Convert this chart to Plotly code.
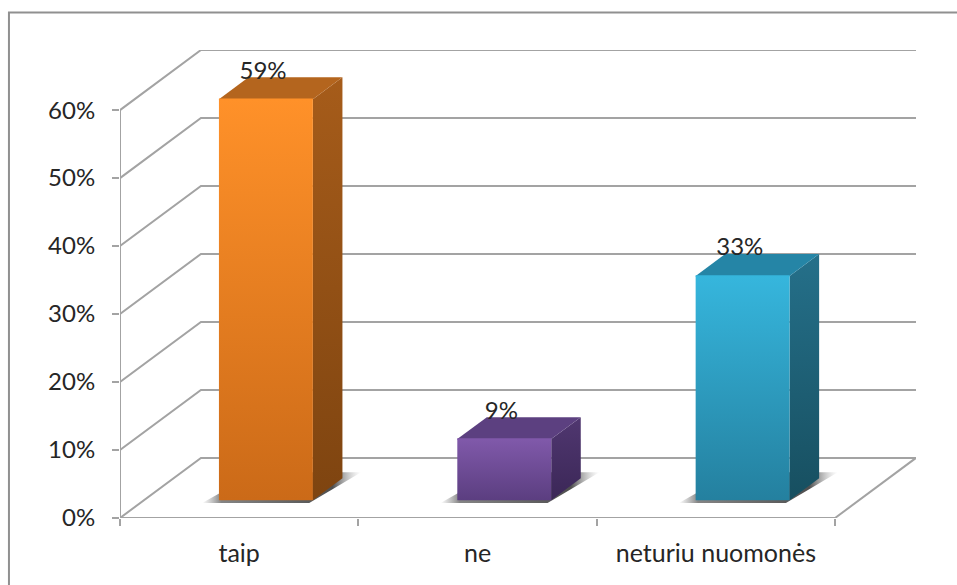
import plotly.graph_objects as go

# --- data ---
categories = ["taip", "ne", "neturiu nuomonės"]
values = [59, 9, 33]
labels = ["59%", "9%", "33%"]
y_ticks = [0, 10, 20, 30, 40, 50, 60]
y_tick_labels = ["0%", "10%", "20%", "30%", "40%", "50%", "60%"]

front_top = ["#ff9129", "#8059aa", "#36b6dd"]
front_bot = ["#cb6a18", "#5b3e80", "#24809f"]
top_face = ["#b4651e", "#5c4080", "#2585a6"]
side_top = ["#a65c1a", "#503770", "#25708a"]
side_bot = ["#7e4410", "#3b2757", "#174f60"]

# oblique-projection parameters, in axis units
SHEAR_X = 81 / 238.5
SHEAR_Y = 8.84
HALF_W = 47 / 238.5
D0, D1 = 0.295, 0.66
OFFSET = 0.012
GRID = "#a3a3a3"
FONT = "Lato"
TEXT = "#262626"


def proj(cat, depth, val):
    return cat + depth * SHEAR_X, val + depth * SHEAR_Y


def poly(points):
    pts = [proj(*p) for p in points]
    return [p[0] for p in pts], [p[1] for p in pts]


fig = go.Figure()


def line(points, color=GRID, width=2):
    xs, ys = poly(points)
    fig.add_trace(go.Scatter(x=xs, y=ys, mode="lines", hoverinfo="skip",
                             line=dict(color=color, width=width), showlegend=False))


def face(points, c1, c2, kind="vertical"):
    xs, ys = poly(points + points[:1])
    fig.add_trace(go.Scatter(
        x=xs, y=ys, mode="lines", fill="toself", hoverinfo="skip", showlegend=False,
        line=dict(color="rgba(0,0,0,0)", width=0),
        fillgradient=dict(type=kind, colorscale=[[0, c2], [1, c1]]),
    ))


n = len(categories)
# walls and floor
for v in y_ticks:
    line([(0, 0, v), (0, 1, v), (n, 1, v)])
line([(0, 0, 0), (0, 0, y_ticks[-1])])
line([(0, 0, 0), (n, 0, 0)])
line([(n, 0, 0), (n, 1, 0)])

# bars
for i, v in enumerate(values):
    c = i + 0.5 + OFFSET
    l, r = c - HALF_W, c + HALF_W
    # soft floor shadow
    xs, ys = poly([(l - 0.055, 0.25, 0), (r, 0.25, 0), (r + 0.045, 0.76, 0),
                   (l, 0.76, 0), (l - 0.055, 0.25, 0)])
    fig.add_trace(go.Scatter(
        x=xs, y=ys, mode="lines", fill="toself", hoverinfo="skip", showlegend=False,
        line=dict(width=0, color="rgba(0,0,0,0)"),
        fillgradient=dict(type="horizontal", colorscale=[
            [0, "rgba(130,130,130,0)"], [0.12, "rgba(110,110,110,0.85)"],
            [0.82, "rgba(60,60,60,0.9)"], [1, "rgba(170,170,170,0)"]]),
    ))
    face([(r, D0, 0), (r, D1, 0), (r, D1, v), (r, D0, v)], side_top[i], side_bot[i])
    face([(l, D0, v), (r, D0, v), (r, D1, v), (l, D1, v)], top_face[i], top_face[i])
    face([(l, D0, 0), (r, D0, 0), (r, D0, v), (l, D0, v)], front_top[i], front_bot[i])
    line([(l, D0, v), (r, D0, v)], color=front_top[i], width=1.5)

# data labels
lx, ly = [], []
for i, v in enumerate(values):
    x, y = proj(i + 0.5, D0, v + 3.9)
    lx.append(x)
    ly.append(y)
fig.add_trace(go.Scatter(x=lx, y=ly, mode="text", text=labels, textposition="middle center",
                         textfont=dict(family=FONT, size=24, color=TEXT),
                         hoverinfo="skip", showlegend=False, cliponaxis=False))

fig.update_layout(
    width=957, height=585, autosize=False,
    margin=dict(l=120, r=41, t=50, b=67, pad=0),
    paper_bgcolor="white", plot_bgcolor="white", showlegend=False,
    xaxis=dict(range=[0, n + SHEAR_X], showgrid=False, zeroline=False, showline=False,
               tickmode="array", tickvals=[i + 0.5 for i in range(n)], ticktext=categories,
               ticks="", ticklabelstandoff=18,
               tickfont=dict(family=FONT, size=25, color=TEXT),
               minor=dict(tickmode="array", tickvals=list(range(n + 1)), ticks="outside",
                          ticklen=7, tickwidth=2, tickcolor=GRID, showgrid=False)),
    yaxis=dict(range=[0, 60 + SHEAR_Y], showgrid=False, zeroline=False, showline=False,
               tickmode="array", tickvals=y_ticks, ticktext=y_tick_labels,
               ticks="outside", ticklen=7, tickwidth=2, tickcolor=GRID, ticklabelstandoff=12,
               tickfont=dict(family=FONT, size=24, color=TEXT)),
    shapes=[dict(type="rect", xref="paper", yref="paper", x0=-0.1395, x1=1.1, y0=-0.2, y1=1.08,
                 line=dict(color="#909090", width=2), fillcolor="rgba(0,0,0,0)", layer="below")],
)

fig.write_html("out.html", config={"displayModeBar": False},
               post_script="document.body.style.margin='0';document.documentElement.style.overflow='hidden';")
